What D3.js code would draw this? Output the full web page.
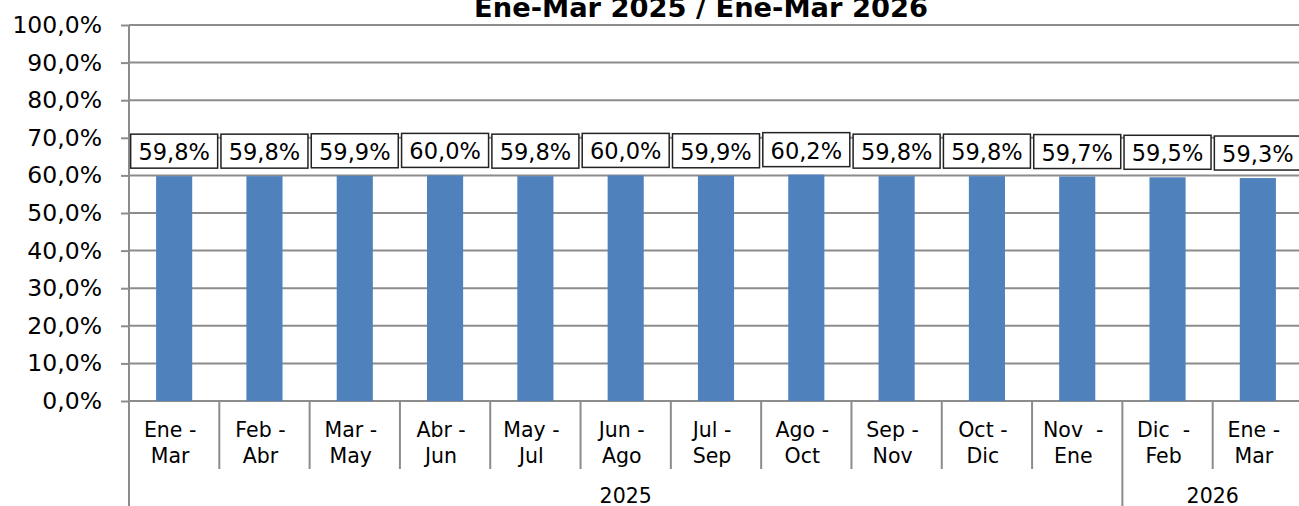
<!DOCTYPE html>
<html>
<head>
<meta charset="utf-8">
<script src="https://cdn.jsdelivr.net/npm/d3@7"></script>
<style>
  html, body { margin: 0; padding: 0; background: #fff; }
  svg { display: block; font-family: "DejaVu Sans", Verdana, sans-serif; }
</style>
</head>
<body>
<div id="chart"></div>
<script>
// data
var title = "Ene-Mar 2025 / Ene-Mar 2026";
var monthFrom = ["Ene -", "Feb -", "Mar -", "Abr -", "May -", "Jun -", "Jul -", "Ago -", "Sep -", "Oct -", "Nov  -", "Dic  -", "Ene -"];
var monthTo = ["Mar", "Abr", "May", "Jun", "Jul", "Ago", "Sep", "Oct", "Nov", "Dic", "Ene", "Feb", "Mar"];
var values = [59.8, 59.8, 59.9, 60.0, 59.8, 60.0, 59.9, 60.2, 59.8, 59.8, 59.7, 59.5, 59.3];
var yearLabels = ["2025", "2026"];
var yearSpans = [11, 2];
var yTicks = [0, 10, 20, 30, 40, 50, 60, 70, 80, 90, 100];

var W = 1299, H = 506;
// note: "top" is a read-only global in browsers, so use plotX/plotY names
var plotX0 = 129, plotX1 = 1303, plotY0 = 25, plotY1 = 401;
var gridColor = "#8c8c8c", barColor = "#4f81bd";

var fmt = function (v) { return d3.format(".1f")(v).replace(".", ",") + "%"; };

var svg = d3.select("#chart").append("svg")
  .attr("width", W)
  .attr("height", H);

var idx = d3.range(values.length);
var x = d3.scaleBand()
  .domain(idx)
  .range([plotX0, plotX1])
  .paddingInner(0.6)
  .paddingOuter(0.3);
var step = x.step();

var y = d3.scaleLinear()
  .domain([0, 100])
  .range([plotY1, plotY0]);

// gridlines
svg.append("g").selectAll("line")
  .data(yTicks)
  .enter().append("line")
  .attr("x1", plotX0).attr("x2", W)
  .attr("y1", function (d) { return y(d); })
  .attr("y2", function (d) { return y(d); })
  .attr("stroke", gridColor)
  .attr("stroke-width", 2);

// y axis
var yAxis = svg.append("g")
  .attr("transform", "translate(" + plotX0 + ",0)")
  .call(d3.axisLeft(y)
    .tickValues(yTicks)
    .tickSize(8)
    .tickPadding(19)
    .tickFormat(fmt));
yAxis.select(".domain").remove();
yAxis.selectAll(".tick line").attr("stroke", gridColor).attr("stroke-width", 2);
yAxis.selectAll(".tick text")
  .attr("font-size", "23.5px")
  .attr("font-family", "DejaVu Sans, Verdana, sans-serif")
  .attr("fill", "#000");

// bars
svg.append("g").selectAll("rect")
  .data(values)
  .enter().append("rect")
  .attr("x", function (d, i) { return x(i); })
  .attr("width", x.bandwidth())
  .attr("y", function (d) { return y(d); })
  .attr("height", function (d) { return plotY1 - y(d); })
  .attr("fill", barColor);

// category separators
var boundaries = d3.range(values.length + 1);
var groupStarts = [0];
yearSpans.forEach(function (s, i) { groupStarts.push(groupStarts[i] + s); });

svg.append("g").selectAll("line")
  .data(boundaries)
  .enter().append("line")
  .attr("x1", function (d) { return plotX0 + d * step; })
  .attr("x2", function (d) { return plotX0 + d * step; })
  .attr("y1", plotY1)
  .attr("y2", function (d) { return groupStarts.indexOf(d) >= 0 ? H : 469; })
  .attr("stroke", gridColor)
  .attr("stroke-width", 2);

// left axis line
svg.append("line")
  .attr("x1", plotX0).attr("x2", plotX0)
  .attr("y1", plotY0).attr("y2", H)
  .attr("stroke", gridColor)
  .attr("stroke-width", 2);

// category labels (two lines)
var cat = svg.append("g").attr("font-size", "20.5px").attr("text-anchor", "middle");
cat.selectAll("text.from")
  .data(monthFrom)
  .enter().append("text")
  .attr("class", "from")
  .attr("xml:space", "preserve")
  .style("white-space", "pre")
  .attr("x", function (d, i) { return x(i) + x.bandwidth() / 2 - 4; })
  .attr("y", 437)
  .text(function (d) { return d; });
cat.selectAll("text.to")
  .data(monthTo)
  .enter().append("text")
  .attr("class", "to")
  .attr("x", function (d, i) { return x(i) + x.bandwidth() / 2 - 4; })
  .attr("y", 463)
  .text(function (d) { return d; });

// year labels
svg.append("g").attr("font-size", "20.5px").attr("text-anchor", "middle")
  .selectAll("text")
  .data(yearLabels)
  .enter().append("text")
  .attr("x", function (d, i) { return plotX0 + (groupStarts[i] + yearSpans[i] / 2) * step; })
  .attr("y", 503)
  .text(function (d) { return d; });

// value labels in boxes
var boxW = 87, boxH = 34;
var lab = svg.append("g").selectAll("g")
  .data(values)
  .enter().append("g")
  .attr("transform", function (d, i) {
    return "translate(" + (x(i) + x.bandwidth() / 2) + "," + (y(d) - 8) + ")";
  });
lab.append("rect")
  .attr("x", -boxW / 2)
  .attr("y", -boxH)
  .attr("width", boxW)
  .attr("height", boxH)
  .attr("fill", "#fff")
  .attr("stroke", "#222")
  .attr("stroke-width", 1.5);
lab.append("text")
  .attr("text-anchor", "middle")
  .attr("y", -8)
  .attr("font-size", "22.5px")
  .text(function (d) { return fmt(d); });

// title (clipped at top in the original)
svg.append("text")
  .attr("x", 701)
  .attr("y", 17)
  .attr("text-anchor", "middle")
  .attr("font-size", "27.3px")
  .attr("font-weight", "bold")
  .text(title);
</script>
</body>
</html>
